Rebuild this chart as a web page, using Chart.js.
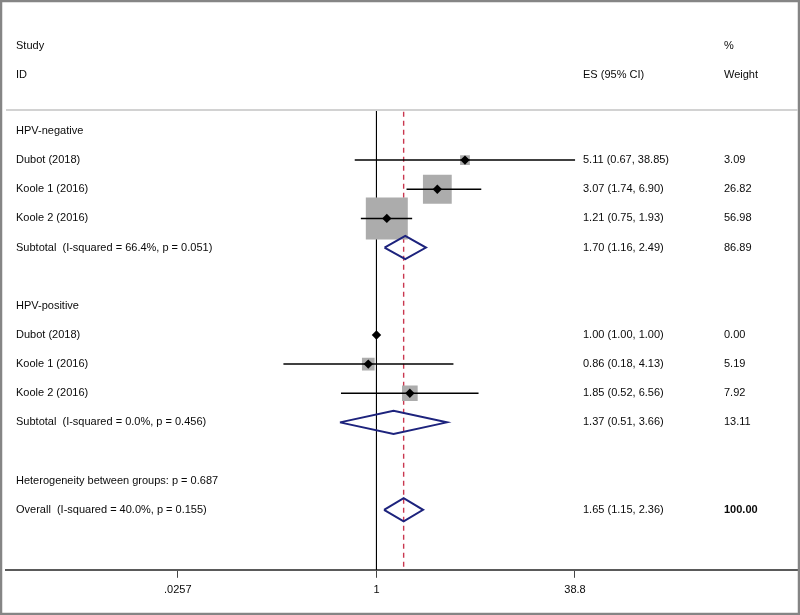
<!DOCTYPE html>
<html>
<head>
<meta charset="utf-8">
<title>Forest plot - HPV status</title>
<script src="https://cdn.jsdelivr.net/npm/chart.js@4"></script>
<style>
  html, body { margin: 0; padding: 0; background: #fff; }
  canvas { display: block; }
</style>
</head>
<body>
<canvas id="forest" width="800" height="615"></canvas>
<script>
// Individual studies (row = position on the y scale, top to bottom)
const studyLabels = ['Dubot (2018)', 'Koole 1 (2016)', 'Koole 2 (2016)', 'Dubot (2018)', 'Koole 1 (2016)', 'Koole 2 (2016)'];
const studyRows = [1, 2, 3, 7, 8, 9];
const studyES = [5.11, 3.07, 1.21, 1.00, 0.86, 1.85];
const studyLo = [0.67, 1.74, 0.75, 1.00, 0.18, 0.52];
const studyHi = [38.85, 6.90, 1.93, 1.00, 4.13, 6.56];
const studyWeight = [3.09, 26.82, 56.98, 0.00, 5.19, 7.92];

// Pooled estimates (subtotals and overall)
const pooledLabels = ['Subtotal  (I-squared = 66.4%, p = 0.051)', 'Subtotal  (I-squared = 0.0%, p = 0.456)', 'Overall  (I-squared = 40.0%, p = 0.155)'];
const pooledRows = [4, 10, 13];
const pooledES = [1.70, 1.37, 1.65];
const pooledLo = [1.16, 0.51, 1.15];
const pooledHi = [2.49, 3.66, 2.36];
const pooledWeight = [86.89, 13.11, 100.00];

// Group headings
const groupLabels = ['HPV-negative', 'HPV-positive', 'Heterogeneity between groups: p = 0.687'];
const groupRows = [0, 6, 12];

// x axis ticks
const tickValues = [0.0257, 1, 38.8];
const tickLabels = ['.0257', '1', '38.8'];

const FONT = "'Liberation Sans', Arial, sans-serif";
const Y_MIN = -0.72;
const Y_MAX = 15.06;
const overallES = pooledES[2];

const fmt = v => v.toFixed(2);

const datasets = [];

// reference lines: null effect and overall estimate
datasets.push({
  data: [{ x: 1, y: Y_MIN }, { x: 1, y: Y_MAX }],
  showLine: true, pointRadius: 0, borderColor: '#000', borderWidth: 1, order: 6
});
datasets.push({
  data: [{ x: overallES, y: Y_MIN + 0.06 }, { x: overallES, y: Y_MAX }],
  showLine: true, pointRadius: 0, borderColor: '#c9374f', borderWidth: 1.4, borderDash: [5, 4], order: 6
});

// weight boxes (area proportional to weight)
datasets.push({
  data: studyES.map((v, i) => ({ x: v, y: studyRows[i] })),
  pointStyle: 'rect',
  pointRadius: studyWeight.map(w => 5.56 * Math.sqrt(w) / Math.SQRT2),
  backgroundColor: '#acacac', borderWidth: 0, order: 5
});

// confidence intervals
studyES.forEach((_, i) => {
  datasets.push({
    data: [{ x: studyLo[i], y: studyRows[i] }, { x: studyHi[i], y: studyRows[i] }],
    showLine: true, pointRadius: 0, borderColor: '#000', borderWidth: 1.5, order: 4
  });
});

// point estimates
datasets.push({
  data: studyES.map((v, i) => ({ x: v, y: studyRows[i] })),
  pointStyle: 'rectRot', pointRadius: 4.7,
  backgroundColor: '#000', borderWidth: 0, order: 3
});

// pooled diamonds
pooledES.forEach((es, i) => {
  const r = pooledRows[i];
  datasets.push({
    data: [
      { x: pooledLo[i], y: r }, { x: es, y: r - 0.4 },
      { x: pooledHi[i], y: r }, { x: es, y: r + 0.4 },
      { x: pooledLo[i], y: r }
    ],
    showLine: true, pointRadius: 0, fill: false, tension: 0,
    borderColor: '#1d237d', borderWidth: 2, order: 2
  });
});

// text columns, frame and header separator
const forestText = {
  id: 'forestText',
  afterDraw(chart) {
    const ctx = chart.ctx;
    const y = chart.scales.y;
    const area = chart.chartArea;
    const rowY = r => y.getPixelForValue(r);
    ctx.save();

    // outer frame
    ctx.strokeStyle = '#858585';
    ctx.lineWidth = 2.5;
    ctx.strokeRect(1, 1, chart.width - 2, chart.height - 2);

    // header separator
    ctx.strokeStyle = '#d2d2d2';
    ctx.lineWidth = 2;
    ctx.beginPath();
    ctx.moveTo(area.left, area.top);
    ctx.lineTo(area.right, area.top);
    ctx.stroke();

    ctx.fillStyle = '#0a0a0a';
    ctx.font = '11px ' + FONT;
    ctx.textBaseline = 'middle';
    ctx.textAlign = 'left';

    const xLabel = 16, xES = 583, xW = 724;

    // headers
    ctx.fillText('Study', xLabel, rowY(-2.92));
    ctx.fillText('ID', xLabel, rowY(-1.92));
    ctx.fillText('ES (95% CI)', xES, rowY(-1.92));
    ctx.fillText('%', xW, rowY(-2.92));
    ctx.fillText('Weight', xW, rowY(-1.92));

    groupLabels.forEach((t, i) => ctx.fillText(t, xLabel, rowY(groupRows[i])));

    studyLabels.forEach((t, i) => {
      const yy = rowY(studyRows[i]);
      ctx.fillText(t, xLabel, yy);
      ctx.fillText(fmt(studyES[i]) + ' (' + fmt(studyLo[i]) + ', ' + fmt(studyHi[i]) + ')', xES, yy);
      ctx.fillText(fmt(studyWeight[i]), xW, yy);
    });

    pooledLabels.forEach((t, i) => {
      const yy = rowY(pooledRows[i]);
      ctx.fillText(t, xLabel, yy);
      ctx.fillText(fmt(pooledES[i]) + ' (' + fmt(pooledLo[i]) + ', ' + fmt(pooledHi[i]) + ')', xES, yy);
      if (i === pooledES.length - 1) ctx.font = 'bold 11px ' + FONT;
      ctx.fillText(fmt(pooledWeight[i]), xW, yy);
      ctx.font = '11px ' + FONT;
    });

    ctx.restore();
  }
};

new Chart(document.getElementById('forest'), {
  type: 'scatter',
  data: { datasets },
  options: {
    responsive: false,
    animation: false,
    events: [],
    layout: { autoPadding: false, padding: { left: 6, right: 2, top: 110, bottom: 12 } },
    plugins: { legend: { display: false }, tooltip: { enabled: false } },
    scales: {
      x: {
        type: 'logarithmic',
        position: 'bottom',
        min: 0.001084,
        max: 2364,
        afterBuildTicks: scale => { scale.ticks = tickValues.map(v => ({ value: v })); },
        grid: { display: true, drawOnChartArea: false, drawTicks: true, tickLength: 8, color: '#444', lineWidth: 1 },
        border: { display: true, color: '#5a5a5a', width: 2 },
        ticks: {
          autoSkip: false, maxRotation: 0, padding: 6, color: '#0a0a0a',
          font: { family: FONT, size: 11 },
          callback: (value, index) => tickLabels[index]
        }
      },
      y: {
        type: 'linear',
        reverse: true,
        min: Y_MIN,
        max: Y_MAX,
        display: false
      }
    }
  },
  plugins: [forestText]
});
</script>
</body>
</html>
